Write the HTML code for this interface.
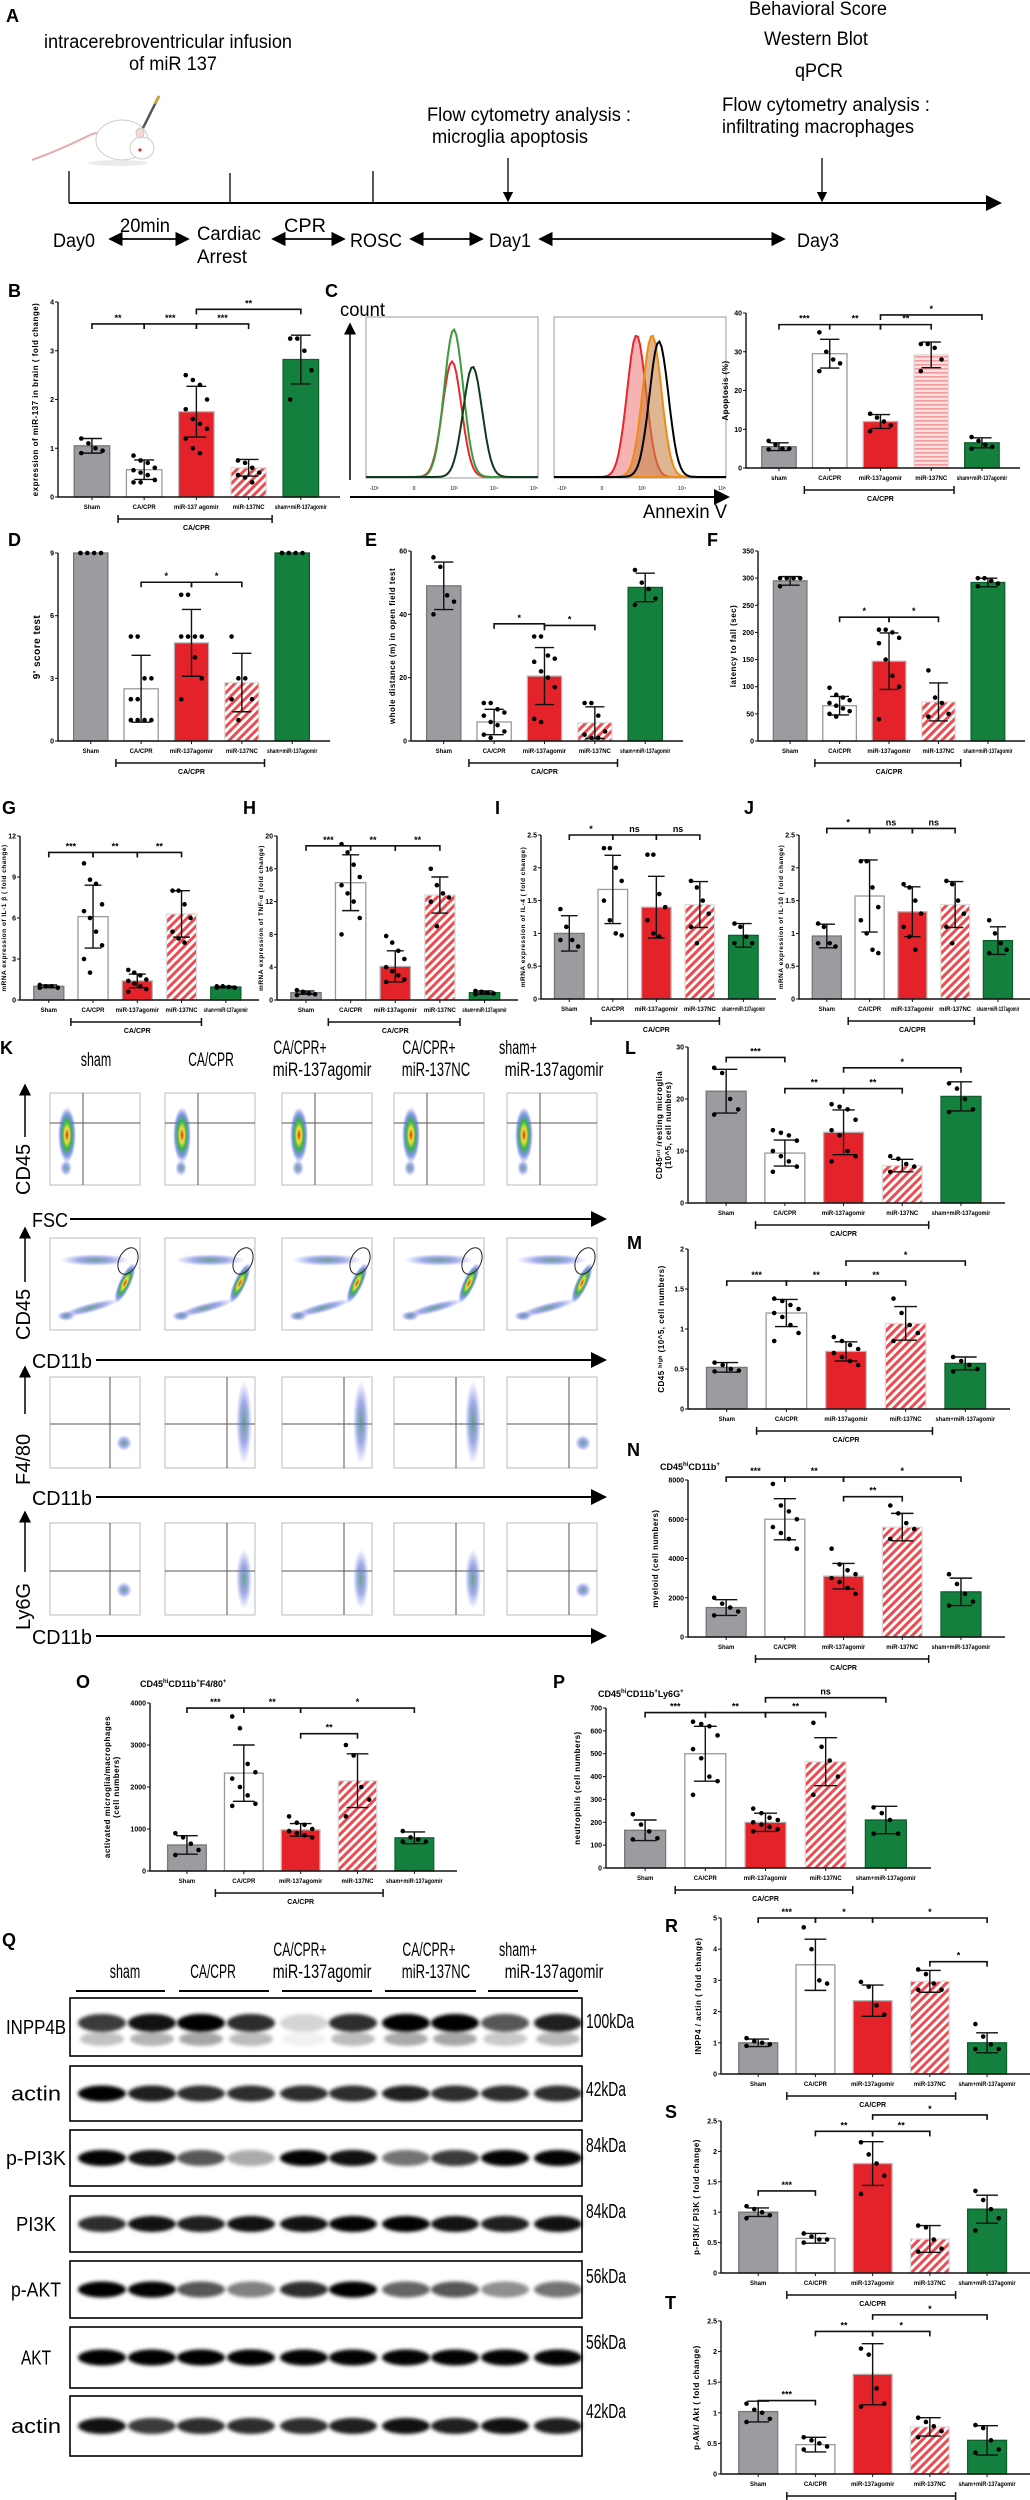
<!DOCTYPE html>
<html><head><meta charset="utf-8"><title>miR-137 figure</title>
<style>
html,body{margin:0;padding:0;background:#fff;}
svg{display:block;font-family:"Liberation Sans",Arial,sans-serif;}
</style></head>
<body>
<svg id="fig" width="1030" height="2500" viewBox="0 0 1030 2500" xmlns="http://www.w3.org/2000/svg">
<defs>
<pattern id="hatch" patternUnits="userSpaceOnUse" width="6" height="6" patternTransform="rotate(45)">
<rect width="6" height="6" fill="#fff"/><rect width="3" height="6" fill="#ee4b50"/></pattern>
<pattern id="hhatch" patternUnits="userSpaceOnUse" width="4" height="4">
<rect width="4" height="4" fill="#fde0e0"/><rect width="4" height="1.6" fill="#f59a9c"/></pattern>
<radialGradient id="dens"><stop offset="0" stop-color="#e8201a"/><stop offset="0.25" stop-color="#f1e23a"/><stop offset="0.5" stop-color="#37b24a"/><stop offset="0.75" stop-color="#4a6bd8" stop-opacity="0.7"/><stop offset="1" stop-color="#5a6be0" stop-opacity="0"/></radialGradient>
<radialGradient id="sparse"><stop offset="0" stop-color="#3d8f5a" stop-opacity="0.8"/><stop offset="0.5" stop-color="#5566d8" stop-opacity="0.55"/><stop offset="1" stop-color="#6a7be0" stop-opacity="0"/></radialGradient>
<filter id="blur" x="-30%" y="-80%" width="160%" height="260%"><feGaussianBlur stdDeviation="1.8"/></filter>
<marker id="arr" markerWidth="8" markerHeight="8" refX="7" refY="4" orient="auto"><path d="M0,0 L8,4 L0,8 Z" fill="#000"/></marker>
<marker id="arrs" markerWidth="8" markerHeight="8" refX="1" refY="4" orient="auto"><path d="M8,0 L0,4 L8,8 Z" fill="#000"/></marker>
</defs>

<g>
<text x="6" y="22" font-size="18" font-weight="bold">A</text>
<text x="168" y="48" font-size="19" text-anchor="middle" textLength="248" lengthAdjust="spacingAndGlyphs">intracerebroventricular infusion</text>
<text x="173" y="70" font-size="19" text-anchor="middle" textLength="88" lengthAdjust="spacingAndGlyphs">of miR 137</text>
<g>
<path d="M32,160 Q60,150 90,135 Q100,130 104,138" fill="none" stroke="#e8a8a8" stroke-width="2"/>
<ellipse cx="122" cy="140" rx="26" ry="20" fill="#fff" stroke="#ccc"/>
<ellipse cx="142" cy="148" rx="12" ry="11" fill="#fff" stroke="#ccc"/>
<circle cx="140" cy="150" r="1.6" fill="#c33"/>
<ellipse cx="140" cy="133" rx="4" ry="5" fill="#f6d6d6" stroke="#ccc"/>
<line x1="143" y1="128" x2="159" y2="96" stroke="#555" stroke-width="2.5"/>
<line x1="155" y1="104" x2="159" y2="96" stroke="#c8a040" stroke-width="3"/>
<ellipse cx="118" cy="163" rx="30" ry="3" fill="#ddd" opacity="0.6"/>
</g>
<text x="818" y="15" font-size="19" text-anchor="middle" textLength="138" lengthAdjust="spacingAndGlyphs">Behavioral Score</text>
<text x="816" y="45" font-size="19" text-anchor="middle" textLength="104" lengthAdjust="spacingAndGlyphs">Western Blot</text>
<text x="819" y="77" font-size="19" text-anchor="middle" textLength="48" lengthAdjust="spacingAndGlyphs">qPCR</text>
<text x="826" y="111" font-size="19" text-anchor="middle" textLength="208" lengthAdjust="spacingAndGlyphs">Flow cytometry  analysis :</text>
<text x="818" y="133" font-size="19" text-anchor="middle" textLength="192" lengthAdjust="spacingAndGlyphs">infiltrating macrophages</text>
<text x="529" y="121" font-size="19" text-anchor="middle" textLength="204" lengthAdjust="spacingAndGlyphs">Flow cytometry analysis :</text>
<text x="510" y="143" font-size="19" text-anchor="middle" textLength="156" lengthAdjust="spacingAndGlyphs">microglia apoptosis</text>
<line x1="69" y1="203" x2="1000" y2="203" stroke="#000" stroke-width="2" marker-end="url(#arr)"/>
<line x1="69" y1="171" x2="69" y2="203" stroke="#000" stroke-width="1.3"/>
<line x1="230" y1="173" x2="230" y2="203" stroke="#000" stroke-width="1.3"/>
<line x1="373" y1="171" x2="373" y2="203" stroke="#000" stroke-width="1.3"/>
<line x1="508" y1="158" x2="508" y2="201" stroke="#000" stroke-width="1.3" marker-end="url(#arr)"/>
<line x1="822" y1="158" x2="822" y2="201" stroke="#000" stroke-width="1.3" marker-end="url(#arr)"/>
<g font-size="19">
<text x="53" y="247" textLength="42" lengthAdjust="spacingAndGlyphs">Day0</text>
<text x="120" y="232" textLength="50" lengthAdjust="spacingAndGlyphs">20min</text>
<text x="197" y="240" textLength="64" lengthAdjust="spacingAndGlyphs">Cardiac</text>
<text x="197" y="263" textLength="50" lengthAdjust="spacingAndGlyphs">Arrest</text>
<text x="284" y="232" textLength="42" lengthAdjust="spacingAndGlyphs">CPR</text>
<text x="350" y="247" textLength="52" lengthAdjust="spacingAndGlyphs">ROSC</text>
<text x="489" y="247" textLength="42" lengthAdjust="spacingAndGlyphs">Day1</text>
<text x="797" y="247" textLength="42" lengthAdjust="spacingAndGlyphs">Day3</text>
</g>
<g stroke="#000" stroke-width="1.8">
<line x1="110" y1="239" x2="188" y2="239" marker-end="url(#arr)" marker-start="url(#arrs)"/>
<line x1="273" y1="239" x2="344" y2="239" marker-end="url(#arr)" marker-start="url(#arrs)"/>
<line x1="411" y1="239" x2="482" y2="239" marker-end="url(#arr)" marker-start="url(#arrs)"/>
<line x1="540" y1="239" x2="784" y2="239" marker-end="url(#arr)" marker-start="url(#arrs)"/>
</g>
</g>

<g font-size="18" font-weight="bold">
<text x="8" y="297">B</text><text x="325" y="297">C</text>
<text x="8" y="546">D</text><text x="365" y="546">E</text><text x="707" y="546">F</text>
<text x="2" y="814">G</text><text x="243" y="814">H</text><text x="495" y="814">I</text><text x="744" y="814">J</text>
<text x="0" y="1054">K</text><text x="625" y="1054">L</text><text x="627" y="1249">M</text><text x="627" y="1456">N</text>
<text x="76" y="1688">O</text><text x="553" y="1688">P</text>
<text x="2" y="1946">Q</text><text x="665" y="1932">R</text><text x="665" y="2118">S</text><text x="665" y="2309">T</text>
</g>

<g>
<rect x="366" y="317" width="172" height="161" fill="none" stroke="#999"/>
<rect x="554" y="317" width="172" height="161" fill="none" stroke="#999"/>
<text x="340" y="316" font-size="19" textLength="45" lengthAdjust="spacingAndGlyphs">count</text>
<line x1="350" y1="480" x2="350" y2="324" stroke="#000" stroke-width="1.5" marker-end="url(#arr)"/>
<line x1="350" y1="497" x2="728" y2="497" stroke="#000" stroke-width="2" marker-end="url(#arr)"/>
<text x="643" y="518" font-size="19" textLength="84" lengthAdjust="spacingAndGlyphs">Annexin V</text>
<g id="histg"></g>
</g>

<g id="charts"></g>
<g id="flow"></g>
<g id="blots"></g>
</svg>

<script>
const groups = ['Sham','CA/CPR','miR-137agomir','miR-137NC','sham+miR-137agomir'];
const groupsB = ['Sham','CA/CPR','miR-137 agomir','miR-137NC','sham+miR-137agomir'];
const groupsC = ['sham','CA/CPR','miR-137agomir','miR-137NC','sham+miR-137agomir'];

const bMeans = [1.05, 0.56, 1.75, 0.6, 2.82];
const bSD = [0.15, 0.2, 0.52, 0.17, 0.5];
const bPts = [[1.2,1.1,1.0,0.95,0.9],[0.85,0.75,0.7,0.6,0.55,0.5,0.45,0.35,0.3,0.3],[2.5,2.4,2.3,2.0,1.8,1.6,1.5,1.4,1.2,1.0,0.9],[0.75,0.7,0.6,0.5,0.45,0.4,0.3],[3.25,3.25,3.0,2.6,2.0]];
const bTicks = [0,1,2,3,4];
const bSig = [[0,1,'**',3.55],[1,2,'***',3.55],[2,3,'***',3.55],[2,4,'**',3.85]];

const cMeans = [5.5, 29.5, 12, 29.2, 6.5];
const cSD = [1.0, 3.7, 1.8, 3.3, 1.3];
const cPts = [[7,6,5,5,4.8],[35,30,28,27,25],[14,13,12,11,9.5],[32,32,31,28,25],[8,7,6,5.5,5]];
const cTicks = [0,10,20,30,40];
const cSig = [[0,1,'***',37],[1,2,'**',37],[2,3,'**',37],[2,4,'*',39.5]];

const dMeans = [9, 2.5, 4.7, 2.8, 9];
const dSD = [0, 1.6, 1.6, 1.4, 0];
const dPts = [[9,9,9,9,9],[5,5,3,3,2,2,1,1,1,1],[7,7,5,5,5,5,4,3,2],[5,3,3,2,2,1],[9,9,9,9,9]];
const dTicks = [0,3,6,9];
const dSig = [[1,2,'*',7.6],[2,3,'*',7.6]];

const eMeans = [49, 6, 20.5, 5.8, 48.5];
const eSD = [7.5, 4, 9, 5, 4.5];
const ePts = [[58,55,46,44,40],[12,12,10,9,8,6,5,3,2,1],[33,33,27,26,25,22,20,17,7,6],[12,12,8,3,2,1,1],[54,50,48,45,43]];
const eTicks = [0,20,40,60];
const eSig = [[1,2,'*',37],[2,3,'*',36.5]];

const fMeans = [295, 65, 147, 72, 292];
const fSD = [8, 17, 52, 35, 8];
const fPts = [[300,300,300,300,285],[98,85,80,75,70,65,60,55,50,45],[205,205,200,190,180,150,120,100,40],[130,80,70,50,45],[300,300,295,290,285]];
const fTicks = [0,50,100,150,200,250,300,350];
const fSig = [[1,2,'*',228],[2,3,'*',228]];

const gMeans = [1.0, 6.1, 1.4, 6.3, 0.95];
const gSD = [0.1, 2.3, 0.5, 1.7, 0.05];
const gPts = [[1.1,1.0,1.0,0.9,0.9],[10,8.8,8.5,7,6.5,6,5,4,3,2],[2.2,2.0,1.8,1.5,1.4,1.2,1.0,0.8,0.6],[8,8,7,6,5,4.5,4.2],[1.0,1.0,0.95,0.9,0.9]];
const gTicks = [0,3,6,9,12];
const gSig = [[0,1,'***',10.8],[1,2,'**',10.8],[2,3,'**',10.8]];

const hMeans = [0.9, 14.3, 4.1, 12.8, 0.9];
const hSD = [0.2, 3.4, 1.9, 2.2, 0.2];
const hPts = [[1.2,1.0,0.8,0.7,0.6],[19,18,16.5,15,14,13,12,10,8],[7.8,7,6,5,4,3.5,3,2.5,2.2],[16,14,13,12.5,12,9],[1.1,1.0,0.9,0.8,0.7]];
const hTicks = [0,4,8,12,16,20];
const hSig = [[0,1,'***',18.8],[1,2,'**',18.8],[2,3,'**',18.8]];

const iMeans = [1.0, 1.67, 1.4, 1.44, 0.97];
const iSD = [0.27, 0.52, 0.47, 0.35, 0.18];
const iPts = [[1.37,1.1,0.9,0.8,0.9],[2.3,2.3,2.0,1.8,1.5,1.2,1.0,0.97],[2.2,2.2,1.6,1.4,1.2,1.0,0.95],[1.8,1.7,1.5,1.3,1.1,0.85],[1.15,1.1,0.95,0.85,0.85]];
const iTicks = [0,0.5,1.0,1.5,2.0,2.5];
const iSig = [[0,1,'*',2.5],[1,2,'ns',2.5],[2,3,'ns',2.5]];

const jMeans = [0.96, 1.57, 1.33, 1.44, 0.89];
const jSD = [0.18, 0.55, 0.38, 0.35, 0.21];
const jPts = [[1.15,1.1,0.85,0.8,0.85],[2.1,2.1,1.7,1.4,1.2,1.0,0.75,0.7],[1.75,1.7,1.5,1.3,1.1,0.95,0.75],[1.8,1.75,1.5,1.3,1.1,0.85],[1.2,1.0,0.85,0.75,0.7]];
const jTicks = [0,0.5,1.0,1.5,2.0,2.5];
const jSig = [[0,1,'*',2.6],[1,2,'ns',2.6],[2,3,'ns',2.6]];

const lMeans = [21.5, 9.6, 13.6, 7.2, 20.5];
const lSD = [4.2, 2.5, 4.3, 1.2, 2.8];
const lPts = [[26,25,20,18,17],[14,13.5,13,12,10,9,8,7,6],[19,18.5,18,16,14,13,10,9,8],[9,8.5,7.5,7,6],[23,22,20,18,17.5]];
const lTicks = [0,10,20,30];
const lSig = [[0,1,'***',28],[1,2,'**',22],[2,3,'**',22],[2,4,'*',26]];

const mMeans = [0.52, 1.2, 0.72, 1.07, 0.57];
const mSD = [0.06, 0.17, 0.12, 0.21, 0.08];
const mPts = [[0.58,0.55,0.5,0.48,0.47],[1.38,1.35,1.3,1.25,1.2,1.15,1.05,0.95,0.85],[0.9,0.85,0.8,0.75,0.7,0.65,0.6,0.55],[1.38,1.2,1.05,0.95,0.85],[0.65,0.6,0.55,0.5,0.47]];
const mTicks = [0,0.5,1.0,1.5,2.0];
const mSig = [[0,1,'***',1.6],[1,2,'**',1.6],[2,3,'**',1.6],[2,4,'*',1.85]];

const nMeans = [1500, 6000, 3100, 5600, 2300];
const nSD = [400, 1050, 650, 700, 700];
const nPts = [[2000,1700,1500,1300,1100],[7800,6700,6400,6000,5600,5300,5000,4500],[4500,3700,3400,3200,3000,2800,2500,2200],[6700,6300,5800,5500,5000],[3200,2700,2200,1800,1600]];
const nTicks = [0,2000,4000,6000,8000];
const nSig = [[0,1,'***',8150],[1,2,'**',8150],[2,4,'*',8150],[2,3,'**',7150]];

const oMeans = [620, 2330, 980, 2150, 790];
const oSD = [220, 670, 150, 640, 140];
const oPts = [[900,800,650,500,380],[3680,3400,2550,2350,2200,2000,1800,1600,1550],[1300,1150,1100,1000,950,900,850,800],[3000,2750,2000,1700,1300],[950,800,750,700,700]];
const oTicks = [0,1000,2000,3000,4000];
const oSig = [[0,1,'***',3880],[1,2,'**',3880],[2,4,'*',3880],[2,3,'**',3270]];

const pMeans = [165, 500, 200, 465, 210];
const pSD = [45, 120, 40, 105, 60];
const pPts = [[235,190,160,130,125],[640,630,620,580,520,480,400,380,320],[260,240,220,210,200,190,180,170,160],[635,530,470,400,320],[265,240,210,150,150]];
const pTicks = [0,100,200,300,400,500,600,700];
const pSig = [[0,1,'***',680],[1,2,'**',680],[2,3,'**',680],[2,4,'ns',745]];

const rMeans = [1.0, 3.5, 2.35, 2.97, 1.0];
const rSD = [0.12, 0.82, 0.5, 0.35, 0.32];
const rPts = [[1.15,1.05,1.0,0.95,0.9],[4.7,4.0,3.0,2.9],[2.95,2.8,2.2,1.9],[3.35,3.2,2.9,2.7,2.7],[1.6,1.2,0.95,0.8,0.8]];
const rTicks = [0,1,2,3,4,5];
const rSig = [[0,1,'***',5],[1,2,'*',5],[2,4,'*',5],[3,4,'*',3.6]];

const sMeans = [1.0, 0.57, 1.8, 0.56, 1.05];
const sSD = [0.07, 0.08, 0.36, 0.22, 0.23];
const sPts = [[1.1,1.05,1.0,0.95,0.9],[0.65,0.6,0.55,0.55,0.5],[2.15,1.95,1.8,1.6,1.3],[0.78,0.75,0.55,0.4,0.35],[1.35,1.2,1.05,0.9,0.7]];
const sTicks = [0,0.5,1.0,1.5,2.0,2.5];
const sSig = [[0,1,'***',1.35],[1,2,'**',2.33],[2,3,'**',2.33],[2,4,'*',2.6]];

const tMeans = [1.02, 0.48, 1.63, 0.77, 0.55];
const tSD = [0.17, 0.12, 0.5, 0.15, 0.24];
const tPts = [[1.15,1.05,1.0,0.9,0.85],[0.6,0.55,0.5,0.45,0.4],[2.05,1.95,1.4,1.15,1.1],[0.92,0.85,0.78,0.7,0.6],[0.8,0.75,0.55,0.4,0.35]];
const tTicks = [0,0.5,1.0,1.5,2.0,2.5];
const tSig = [[0,1,'***',1.2],[1,2,'**',2.33],[2,3,'*',2.33],[2,4,'*',2.6]];

const histPanel1Pos = [0.50, 0.51, 0.62];
const histPanel1Peak = [90, 115, 86];
const histPanel2Pos = [0.48, 0.57, 0.61];
const histPanel2Peak = [92, 92, 88];

const blotNames = ['INPP4B','actin','p-PI3K','PI3K','p-AKT','AKT','actin'];
const blotKDa = ['100kDa','42kDa','84kDa','84kDa','56kDa','56kDa','42kDa'];
const bandINPP4B = [0.7,0.85,1,0.75,0.15,0.75,0.95,1,0.6,0.8];
const bandActin1 = [0.95,0.8,0.75,0.75,0.75,0.75,0.8,0.75,0.75,0.75];
const bandPPI3K = [0.9,0.85,0.6,0.3,0.9,0.85,0.5,0.7,0.9,0.9];
const bandPI3K = [0.75,0.85,0.8,0.85,0.85,0.9,0.9,0.85,0.8,0.85];
const bandPAKT = [0.95,0.9,0.6,0.45,0.75,0.95,0.55,0.6,0.4,0.5];
const bandAKT = [0.95,0.95,0.95,0.95,0.9,0.9,0.9,0.9,0.9,0.9];
const bandActin2 = [0.85,0.7,0.75,0.75,0.75,0.8,0.85,0.8,0.85,0.8];

const NS = 'http://www.w3.org/2000/svg';
function mk(tag, attrs, parent){
  const e = document.createElementNS(NS, tag);
  for (const k in attrs) e.setAttribute(k, attrs[k]);
  parent.appendChild(e);
  return e;
}
const fills = ['#9c9ca0','#ffffff','#e3222a','url(#hatch)','#14803e'];
const strokes = ['#777','#9a9a9a','#b8b8b8','#dddddd','#0f5f2e'];

function drawChart(o){
  const root = document.getElementById('charts');
  const g = mk('g', {}, root);
  
  
  const t0 = o.ticks[0], t1 = o.ticks[o.ticks.length-1];
  const ys = v => o.yBot - (v - t0)/(t1 - t0)*(o.yBot - o.yTop);
  const slot = (o.x1 - o.x0)/5.4;
  const xs = i => o.x0 + slot*(0.65 + i);
  const bw = slot*0.68;
  o.means.forEach((m,i)=>{
    const r = mk('rect', {x: xs(i)-bw/2, y: ys(m), width: bw, height: Math.max(0, o.yBot-ys(m)), fill: (i===3 && o.hatch) ? o.hatch : fills[i], stroke: strokes[i], 'stroke-width': 1.3}, g);
    
    
  });
  o.means.forEach((m,i)=>{
    const sd = o.sd[i]; if (!sd) return;
    const x = xs(i), c = bw*0.28;
    const eb = mk('path', {d:`M${x},${ys(m-sd)}V${ys(m+sd)}M${x-c},${ys(m+sd)}H${x+c}M${x-c},${ys(m-sd)}H${x+c}`, stroke:'#111', 'stroke-width':1.4, fill:'none'}, g);
    
    
  });
  o.pts.forEach((arr,i)=>{
    arr.forEach((v,j)=>{
      const off = ((j%4)-1.5)*bw*0.2;
      const p = mk('circle', {cx: xs(i)+off, cy: ys(v), r: 2.3, fill:'#000'}, g);
      
      
    });
  });
  const ax = mk('path', {d:`M${o.x0},${o.yTop}V${o.yBot}H${o.x1}`, stroke:'#111', 'stroke-width':1.4, fill:'none'}, g);
  
  
  o.ticks.forEach(t=>{
    mk('line', {x1:o.x0-3, x2:o.x0, y1:ys(t), y2:ys(t), stroke:'#111', 'stroke-width':1}, g);
    const tl = mk('text', {x:o.x0-4, y:ys(t)+2.5, 'font-size':7, 'font-weight':'bold', 'text-anchor':'end'}, g);
    tl.textContent = t;
    
    
  });
  const labels = o.cats || groups;
  labels.forEach((c,i)=>{
    mk('line', {x1:xs(i), x2:xs(i), y1:o.yBot, y2:o.yBot+3, stroke:'#111'}, g);
    const attrs = {x:xs(i), y:o.yBot+12, 'font-size':6, 'font-weight':'bold', 'text-anchor':'middle'};
    const est = c.length*3.4;
    if (est > slot*1.0){ attrs.textLength = (slot*1.0).toFixed(1); attrs.lengthAdjust = 'spacingAndGlyphs'; }
    const cl = mk('text', attrs, g);
    cl.textContent = c;
    
    
  });
  const gy = o.yBot + 22;
  const gx0 = xs(1)-slot*0.5, gx1 = xs(3)+slot*0.45;
  const gb = mk('path', {d:`M${gx0},${gy-4}V${gy+4}M${gx0},${gy}H${gx1}M${gx1},${gy-4}V${gy+4}`, stroke:'#111', 'stroke-width':1.5, fill:'none'}, g);
  
  
  const gl = mk('text', {x:xs(2), y:gy+11, 'font-size':7, 'font-weight':'bold', 'text-anchor':'middle'}, g);
  gl.textContent = 'CA/CPR';
  
  
  o.sig.forEach(s=>{
    const y = ys(s[3]), a = xs(s[0]), b = xs(s[1]);
    const br = mk('path', {d:`M${a},${y+5}V${y}H${b}V${y+5}`, stroke:'#111', 'stroke-width':1.6, fill:'none'}, g);
    
    
    const st = mk('text', {x:(a+b)/2, y:y-3, 'font-size':9, 'font-weight':'bold', 'text-anchor':'middle'}, g);
    st.textContent = s[2];
    
    
  });
  const cy = (o.yTop+o.yBot)/2, lx = o.x0 - (o.ylOff || 22);
  const yl = mk('text', {x:lx, y:cy, 'font-size':o.ylSize||8, 'font-weight':'bold', 'text-anchor':'middle', transform:`rotate(-90 ${lx} ${cy})`, 'letter-spacing':0.5}, g);
  yl.textContent = o.ylabel;
  
  
  if (o.ylabel2){
    const lx2 = lx + 9;
    const yl2 = mk('text', {x:lx2, y:cy, 'font-size':8, 'font-weight':'bold', 'text-anchor':'middle', transform:`rotate(-90 ${lx2} ${cy})`, 'letter-spacing':0.5}, g);
    yl2.textContent = o.ylabel2;
    
    
  }
  if (o.title){
    const tt = mk('text', {x:o.title[1], y:o.title[2], 'font-size':9, 'font-weight':'bold'}, g);
    tt.innerHTML = o.title[0];
    
    
  }
}

drawChart({name:'chart-b-mir137-expression', x0:58,x1:340,yTop:302,yBot:497, means:bMeans, sd:bSD, pts:bPts, ticks:bTicks, sig:bSig, cats:groupsB, ylabel:'expression of miR-137 in brain ( fold change)', ylOff:20});
drawChart({name:'chart-c-apoptosis', x0:746,x1:1020,yTop:313,yBot:468, means:cMeans, sd:cSD, pts:cPts, ticks:cTicks, sig:cSig, cats:groupsC, hatch:'url(#hhatch)', ylabel:'Apoptosis (%)', ylOff:18});
drawChart({name:'chart-d-score-test', x0:58,x1:330,yTop:553,yBot:741, means:dMeans, sd:dSD, pts:dPts, ticks:dTicks, sig:dSig, ylabel:"9' score test", ylSize:10, ylOff:18});
drawChart({name:'chart-e-open-field', x0:411,x1:683,yTop:551,yBot:741, means:eMeans, sd:eSD, pts:ePts, ticks:eTicks, sig:eSig, ylabel:'whole distance  (m)  in open field test', ylOff:16});
drawChart({name:'chart-f-latency', x0:758,x1:1025,yTop:551,yBot:741, means:fMeans, sd:fSD, pts:fPts, ticks:fTicks, sig:fSig, ylabel:'latency to fall (sec)', ylOff:22});
drawChart({name:'chart-g-il1b', x0:20,x1:259,yTop:836,yBot:1000, means:gMeans, sd:gSD, pts:gPts, ticks:gTicks, sig:gSig, ylabel:'mRNA expression of IL-1 β ( fold change)', ylSize:6.5, ylOff:14});
drawChart({name:'chart-h-tnfa', x0:277,x1:518,yTop:836,yBot:1000, means:hMeans, sd:hSD, pts:hPts, ticks:hTicks, sig:hSig, ylabel:'mRNA expression of  TNF-α (fold change)', ylSize:6.5, ylOff:14});
drawChart({name:'chart-i-il4', x0:541,x1:776,yTop:835,yBot:999, means:iMeans, sd:iSD, pts:iPts, ticks:iTicks, sig:iSig, ylabel:'mRNA expression of IL-4 ( fold change)', ylSize:6.5, ylOff:16});
drawChart({name:'chart-j-il10', x0:799,x1:1030,yTop:835,yBot:999, means:jMeans, sd:jSD, pts:jPts, ticks:jTicks, sig:jSig, ylabel:'mRNA expression of IL-10 ( fold change)', ylSize:6.5, ylOff:16});
drawChart({name:'chart-l-resting-microglia', x0:688,x1:1005,yTop:1047,yBot:1203, means:lMeans, sd:lSD, pts:lPts, ticks:lTicks, sig:lSig, ylabel:'CD45ᶦⁿᵗ /resting microglia', ylabel2:'(10^5, cell numbers)', ylOff:26});
drawChart({name:'chart-m-cd45-high', x0:688,x1:1010,yTop:1249,yBot:1409, means:mMeans, sd:mSD, pts:mPts, ticks:mTicks, sig:mSig, ylabel:'CD45 ʰⁱᵍʰ (10^5, cell numbers)', ylOff:24});
drawChart({name:'chart-n-myeloid', x0:688,x1:1005,yTop:1480,yBot:1637, means:nMeans, sd:nSD, pts:nPts, ticks:nTicks, sig:nSig, ylabel:'myeloid  (cell numbers)', ylOff:30, title:['CD45<tspan font-size="6" dy="-4">hi</tspan><tspan dy="4">CD11b</tspan><tspan font-size="6" dy="-4">+</tspan>',660,1470]});
drawChart({name:'chart-o-activated-microglia', x0:150,x1:457,yTop:1703,yBot:1871, means:oMeans, sd:oSD, pts:oPts, ticks:oTicks, sig:oSig, ylabel:'activated microglia/macrophages', ylabel2:'(cell numbers)', ylOff:40, title:['CD45<tspan font-size="6" dy="-4">hi</tspan><tspan dy="4">CD11b</tspan><tspan font-size="6" dy="-4">+</tspan><tspan dy="4">F4/80</tspan><tspan font-size="6" dy="-4">+</tspan>',140,1687]});
drawChart({name:'chart-p-neutrophils', x0:606,x1:931,yTop:1708,yBot:1868, means:pMeans, sd:pSD, pts:pPts, ticks:pTicks, sig:pSig, ylabel:'neutrophils (cell numbers)', ylOff:26, title:['CD45<tspan font-size="6" dy="-4">hi</tspan><tspan dy="4">CD11b</tspan><tspan font-size="6" dy="-4">+</tspan><tspan dy="4">Ly6G</tspan><tspan font-size="6" dy="-4">+</tspan>',598,1697]});
drawChart({name:'chart-r-inpp4-actin', x0:721,x1:1030,yTop:1918,yBot:2074, means:rMeans, sd:rSD, pts:rPts, ticks:rTicks, sig:rSig, ylabel:'INPP4 / actin  ( fold change)', ylOff:20});
drawChart({name:'chart-s-ppi3k-pi3k', x0:721,x1:1030,yTop:2121,yBot:2273, means:sMeans, sd:sSD, pts:sPts, ticks:sTicks, sig:sSig, ylabel:'p-PI3K/ PI3K ( fold change)', ylOff:22});
drawChart({name:'chart-t-pakt-akt', x0:721,x1:1030,yTop:2321,yBot:2474, means:tMeans, sd:tSD, pts:tPts, ticks:tTicks, sig:tSig, ylabel:'p-Akt/ Akt ( fold change)', ylOff:22});

(function(){
  const hg = document.getElementById('histg');
  function curve(px, w, base, top, maxC, pos, peak, color, fill){
    const pts = [];
    for (let k=0;k<=80;k++){
      const f = k/80;
      const d = (f-pos)/0.055;
      const v = peak*Math.exp(-d*d/2);
      pts.push([px+f*w, base - v/maxC*(base-top)]);
    }
    const d = 'M' + pts.map(p=>p[0].toFixed(1)+','+p[1].toFixed(1)).join('L');
    const p = mk('path', {d: fill ? d+'Z' : d, fill: fill || 'none', 'fill-opacity': fill?0.6:1, stroke: color, 'stroke-width': 2}, hg);
    
    
  }
  const c1 = ['#e8262b','#3c9a3c','#0f3b1c'];
  histPanel1Pos.forEach((pos,i)=>curve(366,172,477,323,120,pos,histPanel1Peak[i],c1[i],null));
  const c2 = ['#e8262b','#f08a10','#000'];
  const f2 = ['#f08080','#c8864a',null];
  histPanel2Pos.forEach((pos,i)=>curve(554,172,477,323,100,pos,histPanel2Peak[i],c2[i],f2[i]));
  [366,554].forEach(px=>{
    for(let k=0;k<5;k++){
      const t = mk('text',{x:px+8+k*40,y:490,'font-size':5,'text-anchor':'middle'},hg);
      t.textContent = ['-10³','0','10³','10⁴','10⁵'][k];
      
      
    }
  });
})();

(function(){
  const fg = document.getElementById('flow');
  const cols = [50,165,282,394,507];
  const w = 90;
  const rows = [[1093,1185],[1238,1330],[1377,1468],[1523,1615]];
  const hdr = [['sham',96,1066],['CA/CPR',211,1066],['CA/CPR+',300,1054],['miR-137agomir',322,1076],['CA/CPR+',429,1054],['miR-137NC',436,1076],['sham+',518,1054],['miR-137agomir',554,1076]];
  hdr.forEach(h=>{
    const t = mk('text',{x:h[1],y:h[2],'font-size':19,'text-anchor':'middle',textLength:(h[0].length*7.6),lengthAdjust:'spacingAndGlyphs'},fg);
    t.textContent = h[0];
    
    
  });
  rows.forEach((r,ri)=>{
    cols.forEach((cx,ci)=>{
      const box = mk('rect',{x:cx,y:r[0],width:w,height:r[1]-r[0],fill:'#fff',stroke:'#bbb'},fg);
      
      
      if (ri===0){
        mk('line',{x1:cx,x2:cx+w,y1:1123,y2:1123,stroke:'#555'},fg);
        mk('line',{x1:cx+33,x2:cx+33,y1:r[0],y2:r[1],stroke:'#555'},fg);
        mk('ellipse',{cx:cx+17,cy:1135,rx:9,ry:28,fill:'url(#dens)'},fg);
        mk('ellipse',{cx:cx+16,cy:1168,rx:6,ry:8,fill:'url(#sparse)'},fg);
      } else if (ri===1){
        mk('ellipse',{cx:cx+45,cy:r[0]+22,rx:35,ry:6,fill:'url(#sparse)'},fg);
        mk('ellipse',{cx:cx+75,cy:r[0]+45,rx:6,ry:22,fill:'url(#dens)',transform:`rotate(25 ${cx+75} ${r[0]+45})`},fg);
        mk('ellipse',{cx:cx+40,cy:r[0]+70,rx:30,ry:5,fill:'url(#sparse)',transform:`rotate(-15 ${cx+40} ${r[0]+70})`},fg);
        mk('ellipse',{cx:cx+16,cy:r[0]+78,rx:9,ry:5,fill:'url(#sparse)'},fg);
        mk('ellipse',{cx:cx+78,cy:r[0]+23,rx:9,ry:14,fill:'none',stroke:'#222','stroke-width':1,transform:`rotate(25 ${cx+78} ${r[0]+23})`},fg);
      } else {
        const hy = ri===2 ? 1424 : 1571;
        const vx = cx + (ci===0 ? 60 : 62);
        mk('line',{x1:cx,x2:cx+w,y1:hy,y2:hy,stroke:'#555'},fg);
        mk('line',{x1:vx,x2:vx,y1:r[0],y2:r[1],stroke:'#555'},fg);
        if (ci===0 || ci===4){
          mk('ellipse',{cx:vx+14,cy:r[1]-25,rx:8,ry:8,fill:'url(#sparse)'},fg);
        } else {
          mk('ellipse',{cx:vx+17,cy:(r[0]+r[1])/2+(ri===3?10:0),rx:8,ry:(ri===3?30:42),fill:'url(#sparse)'},fg);
        }
      }
    });
  });
  const axisRows = [['FSC',1227,70],['CD11b',1368,96],['CD11b',1505,96],['CD11b',1644,96]];
  axisRows.forEach(a=>{
    const t = mk('text',{x:32,y:a[1],'font-size':20,textLength:(a[0]==='FSC'?36:60),lengthAdjust:'spacingAndGlyphs'},fg);
    t.textContent = a[0];
    
    
    mk('line',{x1:a[2],x2:605,y1:a[1]-8,y2:a[1]-8,stroke:'#000','stroke-width':2,'marker-end':'url(#arr)'},fg);
  });
  const yLabs = [['CD45',1195,1085],['CD45',1340,1228],['F4/80',1485,1367],['Ly6G',1630,1512]];
  yLabs.forEach(a=>{
    const t = mk('text',{x:30,y:a[1],'font-size':20,transform:`rotate(-90 30 ${a[1]})`},fg);
    t.textContent = a[0];
    
    
    mk('line',{x1:25,x2:25,y1:a[1]-(a[0].length*13+6),y2:a[2],stroke:'#000','stroke-width':1.5,'marker-end':'url(#arr)'},fg);
  });
})();

(function(){
  const bg = document.getElementById('blots');
  const hdr = [['sham',125,1978],['CA/CPR',213,1978],['CA/CPR+',300,1956],['miR-137agomir',322,1978],['CA/CPR+',429,1956],['miR-137NC',436,1978],['sham+',518,1956],['miR-137agomir',554,1978]];
  hdr.forEach(h=>{
    const t = mk('text',{x:h[1],y:h[2],'font-size':19,'text-anchor':'middle',textLength:(h[0].length*7.6),lengthAdjust:'spacingAndGlyphs'},bg);
    t.textContent = h[0];
    
    
  });
  [[76,165],[179,269],[282,372],[385,476],[488,578]].forEach(u=>{
    mk('line',{x1:u[0],x2:u[1],y1:1991,y2:1991,stroke:'#000','stroke-width':2},bg);
  });
  const boxes = [[1998,2056],[2066,2121],[2130,2186],[2196,2252],[2261,2318],[2327,2388],[2396,2456]];
  const bands = [bandINPP4B,bandActin1,bandPPI3K,bandPI3K,bandPAKT,bandAKT,bandActin2];
  const lanes = [102,152,201,251,304,353,406,455,505,558];
  boxes.forEach((b,bi)=>{
    const bx = mk('rect',{x:70,y:b[0],width:512,height:b[1]-b[0],fill:'#fff',stroke:'#000','stroke-width':1.6},bg);
    
    
    const by = b[0] + (b[1]-b[0])*(bi===0?0.43:0.5);
    bands[bi].forEach((v,li)=>{
      const band = mk('ellipse',{cx:lanes[li],cy:by,rx:24,ry:bi===0?9:8,fill:'#000','fill-opacity':Math.min(1,v*1.1),filter:'url(#blur)'},bg);
      
      
      if (bi===0){
        mk('ellipse',{cx:lanes[li],cy:by+16,rx:22,ry:7,fill:'#000','fill-opacity':v*0.35,filter:'url(#blur)'},bg);
      }
    });
    const nl = mk('text',{x:36,y:(b[0]+b[1])/2+7,'font-size':20,'text-anchor':'middle',textLength:(blotNames[bi].length*10),lengthAdjust:'spacingAndGlyphs'},bg);
    nl.textContent = blotNames[bi];
    
    
    const kl = mk('text',{x:586,y:b[0]+(bi===0||bi===1?30:22),'font-size':20,textLength:(blotKDa[bi].length*8),lengthAdjust:'spacingAndGlyphs'},bg);
    kl.textContent = blotKDa[bi];
    
    
  });
})();
</script>
</body></html>
